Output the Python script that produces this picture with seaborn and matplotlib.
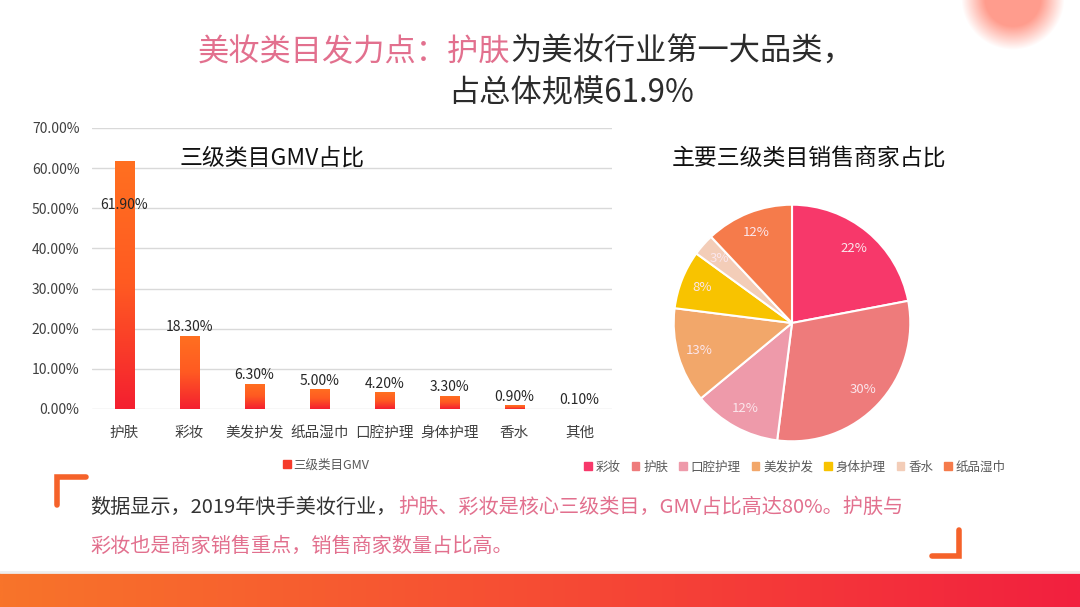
import numpy as np
import pandas as pd
import matplotlib
matplotlib.use('Agg')
import matplotlib.pyplot as plt
import seaborn as sns
from matplotlib.colors import LinearSegmentedColormap, to_rgb
from matplotlib.patches import Patch
from matplotlib.lines import Line2D

# data
categories = ['护肤', '彩妆', '美发护发', '纸品湿巾', '口腔护理', '身体护理', '香水', '其他']
gmv_share = [61.9, 18.3, 6.3, 5.0, 4.2, 3.3, 0.9, 0.1]
y_ticks = [0, 10, 20, 30, 40, 50, 60, 70]

pie_labels = ['彩妆', '护肤', '口腔护理', '美发护发', '身体护理', '香水', '纸品湿巾']
pie_values = [22, 30, 12, 13, 8, 3, 12]
pie_colors = ['#F7386A', '#EE7B7B', '#EE9AAA', '#F2A76A', '#F8C300', '#F3CDB8', '#F57B4B']

title_pink = '美妆类目发力点：护肤'
title_dark = '为美妆行业第一大品类，'
title_line2 = '占总体规模61.9%'
note_dark = '数据显示，2019年快手美妆行业，'
note_pink = '护肤、彩妆是核心三级类目，GMV占比高达80%。护肤与'
note_line2 = '彩妆也是商家销售重点，销售商家数量占比高。'

PINK = '#E2708E'
DARK = '#2B2B2B'

sns.set_theme(style='white')
plt.rcParams['font.family'] = ['Noto Sans CJK SC', 'DejaVu Sans']

W, H = 1080, 607
fig = plt.figure(figsize=(W / 100, H / 100), dpi=100)
fig.patch.set_facecolor('white')


def fx(px):
    return px / W


def fy(py):
    return 1 - py / H


# ---- bar chart ----
df = pd.DataFrame({'cat': categories, 'gmv': gmv_share})
ax = fig.add_axes([fx(92), fy(409), fx(612) - fx(92), fy(128) - fy(409)])
sns.barplot(data=df, x='cat', y='gmv', ax=ax, width=0.3, color='#F5362A',
            order=categories)

grad = np.linspace(0, 1, 256).reshape(-1, 1)
bar_cmap = LinearSegmentedColormap.from_list('bar', ['#F41F30', '#FF5A22', '#FF7020'])
for p in list(ax.patches):
    x0, y0, w, h = p.get_x(), p.get_y(), p.get_width(), p.get_height()
    im = ax.imshow(grad, extent=[x0, x0 + w, y0, y0 + h], origin='lower',
                   cmap=bar_cmap, aspect='auto', zorder=3)
    im.set_clip_path(p)
    p.set_facecolor('none')
    p.set_edgecolor('none')

ax.set_xlim(-0.5, len(categories) - 0.5)
ax.set_ylim(0, 70)
ax.set_yticks(y_ticks)
ax.set_yticklabels(['{:.2f}%'.format(v) for v in y_ticks], fontsize=10, color='#404040')
ax.set_xticks(range(len(categories)))
ax.set_xticklabels(categories, fontsize=10.5, color='#404040')
ax.tick_params(axis='y', length=0, pad=9)
ax.tick_params(axis='x', length=0, pad=12)
ax.set_xlabel('')
ax.set_ylabel('')
ax.grid(axis='y', color='#D9D9D9', linewidth=1)
ax.set_axisbelow(True)
for s in ax.spines.values():
    s.set_visible(False)
ax.set_facecolor('none')

for i, v in enumerate(gmv_share):
    if i == 0:
        ax.text(i, v * 0.82, '{:.2f}%'.format(v), ha='center', va='center',
                fontsize=10, color='#262626', zorder=5)
    else:
        ax.annotate('{:.2f}%'.format(v), (i, v), xytext=(0, 1),
                    textcoords='offset points', ha='center', va='bottom',
                    fontsize=10, color='#262626', zorder=5)

fig.text(fx(180), fy(158), '三级类目GMV占比', fontsize=16.5, color='#111111',
         ha='left', va='center')

fig.legend(handles=[Patch(color='#F53A2A')], labels=['三级类目GMV'],
           loc='center', bbox_to_anchor=(fx(326), fy(465)), frameon=False,
           fontsize=9, handlelength=0.6, handleheight=0.6, handletextpad=0.2,
           labelcolor='#595959')

# ---- pie chart ----
pax = fig.add_axes([fx(662), fy(453), fx(922) - fx(662), fy(193) - fy(453)])
wedges, texts, autotexts = pax.pie(
    pie_values, colors=pie_colors, startangle=90, counterclock=False,
    radius=0.91, autopct='%d%%', pctdistance=0.82,
    wedgeprops=dict(edgecolor='white', linewidth=1.5),
    textprops=dict(color='#FBE6EC', fontsize=9.5))
pax.set_xlim(-1, 1)
pax.set_ylim(-1, 1)
pax.set_aspect('equal')
pax.axis('off')

fig.text(fx(672), fy(158), '主要三级类目销售商家占比', fontsize=16.5, color='#111111',
         ha='left', va='center')

fig.legend(handles=[Patch(color=c) for c in pie_colors], labels=pie_labels,
           loc='center', bbox_to_anchor=(fx(795), fy(467)), frameon=False, ncol=7,
           fontsize=9, handlelength=0.6, handleheight=0.6, handletextpad=0.3,
           columnspacing=0.9, labelcolor='#595959')

# ---- headline ----
fig.text(fx(510), fy(52), title_pink, fontsize=22.5, color=PINK, ha='right', va='center')
fig.text(fx(510), fy(52), title_dark, fontsize=22.5, color=DARK, ha='left', va='center')
fig.text(fx(448), fy(93), title_line2, fontsize=22.5, color=DARK, ha='left', va='center')

# ---- note text ----
t1 = fig.text(fx(90), fy(507), note_dark, fontsize=14.5, color='#333333',
              ha='left', va='center')
fig.canvas.draw()
x_end = t1.get_window_extent().x1 / W
fig.text(x_end + fx(2), fy(507), note_pink, fontsize=14.5, color=PINK,
         ha='left', va='center')
fig.text(fx(90), fy(546), note_line2, fontsize=14.5, color=PINK, ha='left', va='center')

# corner brackets
fig.add_artist(Line2D([fx(57), fx(57), fx(86)], [fy(505), fy(477), fy(477)],
                      color='#F5622A', linewidth=4, solid_joinstyle='miter'))
fig.add_artist(Line2D([fx(932), fx(959), fx(959)], [fy(556), fy(556), fy(530)],
                      color='#F5622A', linewidth=4, solid_joinstyle='miter'))

# ---- bottom band ----
bax = fig.add_axes([0, 0, 1, 34 / H])
band = np.linspace(0, 1, 512).reshape(1, -1)
band_cmap = LinearSegmentedColormap.from_list('band', ['#F8742A', '#F64C34', '#F2203F'])
bax.imshow(band, cmap=band_cmap, aspect='auto', extent=[0, 1, 0, 1])
bax.axis('off')
fig.add_artist(Line2D([0, 1], [fy(572), fy(572)], color='#EEEEEE', linewidth=2))

# ---- blurred circle top right ----
cax = fig.add_axes([fx(940), fy(80), fx(1080) - fx(940), fy(0) - fy(80)])
xx, yy = np.meshgrid(np.linspace(940, 1080, 140), np.linspace(0, 80, 80))
d = np.sqrt((xx - 1013) ** 2 + (yy + 2) ** 2)
alpha = np.clip((52 - d) / 24, 0, 1) * 0.85
rgba = np.zeros(xx.shape + (4,))
rgba[..., :3] = to_rgb('#FF8A78')
rgba[..., 3] = alpha
cax.imshow(rgba, aspect='auto', extent=[0, 1, 0, 1], origin='upper')
cax.axis('off')

fig.savefig('out.png', dpi=100, facecolor='white')
